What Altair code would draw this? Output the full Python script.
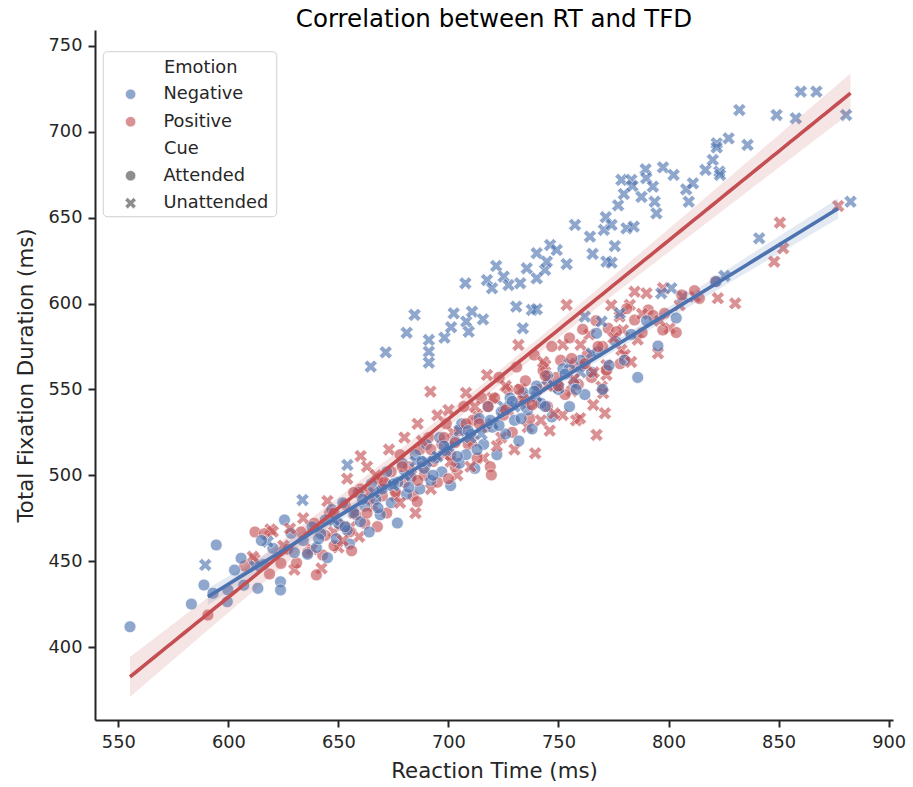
import numpy as np
import pandas as pd
import altair as alt

# ---------------- data ----------------
# Negative / Attended (blue circles)
na_x = [555.3, 583.2, 588.9, 593.0, 594.5, 599.5, 599.8, 602.8, 605.8, 607.0, 613.4, 623.7, 623.7, 625.5, 628.5,
        620.2, 616.0, 630.0, 634, 636, 638, 640, 642, 644, 645, 647, 649, 650, 652, 654, 655, 657, 659, 660, 662,
        664, 665, 667, 669, 670, 672, 674, 676.8, 677, 679, 681, 683, 685, 687, 689, 690, 692, 694, 696, 697, 699,
        701, 703, 705, 706, 708, 710, 712, 714, 716, 718, 720, 722, 724, 726, 728, 730, 732, 734, 736, 738, 740,
        742, 745, 747, 750, 752, 755, 757, 760, 762, 765, 767.3, 768, 770, 773, 776, 780, 783, 786, 790, 795.2,
        803.5, 821.6, 615.0,
        641, 653, 661, 668, 675, 682, 688, 693, 698, 704, 709, 713, 719, 723, 729, 733, 739, 744, 753, 758]
na_y = [411.8, 425.0, 436.1, 431.3, 459.4, 426.4, 433.2, 444.8, 451.7, 436.0, 434.2, 438.0, 433.2, 474.0, 466.2,
        457.5, 448.0, 455.0, 462, 454, 470, 458, 466, 474, 452, 480, 463, 472, 484, 468, 460, 478, 490, 473, 482,
        467, 495, 486, 477, 492, 502, 484, 472.2, 496, 507, 489, 499, 512, 492, 504, 518, 497, 510, 522, 502, 514,
        494, 520, 507, 530, 512, 524, 504, 533, 518, 540, 528, 512, 537, 524, 545, 532, 520, 548, 538, 527, 552,
        542, 558, 534, 550, 562, 540, 554, 567, 547, 560, 582.7, 572, 550, 564, 578, 567, 582, 557, 590, 575.3,
        591.6, 612.8, 462.0,
        463, 470, 486, 481, 495, 493, 508, 500, 517, 511, 526, 515, 532, 529, 543, 533, 549, 540, 559, 550]

# Positive / Attended (red circles)
pa_x = [590.7, 607.4, 612.1, 616.4, 618.7, 623.9, 627, 631, 633, 636, 639, 642.8, 644, 646, 648, 651, 653, 655,
        658, 660, 662, 664, 667.7, 668, 670, 672, 674, 676, 678, 680, 682, 684, 685.8, 687, 689, 691, 693, 695,
        697, 699, 701, 703, 705, 707, 709, 711, 713, 715, 717, 719, 719.5, 721, 723, 725, 727, 729, 731, 733, 735,
        737, 739, 741, 743, 745, 747, 749, 751, 753, 755, 757, 759, 761, 763, 765, 767, 770, 771.8, 772.6, 776.3,
        778, 781, 784.6, 788, 790.8, 793, 797.4, 798.2, 803.5, 806, 811.8, 814, 821.3, 640, 656, 700,
        648, 657, 663, 671, 679, 686, 692, 698, 703, 708, 714, 718, 726, 732, 738, 744, 750, 756, 762, 768]
pa_y = [418.6, 447.2, 467.0, 466.0, 442.5, 448.7, 457, 449, 467, 455, 472, 453.6, 465, 478, 459, 471, 483, 467,
        477, 492, 472, 486, 470.1, 498, 488, 478, 502, 490, 512, 496, 505, 488, 484.6, 515, 500, 522, 508, 496,
        518, 530, 512, 505, 526, 540, 518, 532, 510, 545, 528, 505, 500.2, 545, 557, 535, 550, 525, 563, 543, 555,
        533, 570, 550, 561, 540, 575, 557, 567, 547, 580, 563, 553, 585, 570, 557, 590, 575, 561.3, 585.6, 583.6,
        565, 597, 590.4, 583, 596.3, 593, 584.6, 594.3, 583.1, 605, 607.5, 603, 612.8, 442, 456, 498,
        478, 490, 478, 496, 505, 497, 515, 522, 519, 530, 530, 540, 538, 550, 541, 558, 552, 568, 565, 575]

# Negative / Unattended (blue crosses)
nu_x = [664.7, 671.5, 681.0, 684.6, 691.1, 691.1, 691.1, 698.2, 701.2, 702.4, 708.1, 709.2, 710.7, 715.7, 707.7,
        717.5, 719.8, 721.7, 725.1, 727.3, 732.6, 730.8, 733.8, 735.6, 740.1, 737.9, 740.1, 740.1, 743.9, 744.7,
        746.2, 749.2, 753.7, 757.5, 764.3, 765.5, 771.5, 770.6, 774.1, 775.6, 771.8, 774.1, 777.1, 778.6, 779.7,
        783.1, 783.6, 780.9, 784.2, 787.7, 789.6, 789.9, 792.9, 793.7, 794.5, 797.5, 802.3, 808.0, 809.2, 811.1,
        816.8, 820.1, 821.9, 823.1, 827.3, 835.9, 832.2, 821.9, 823.4, 849.1, 857.8, 860.1, 867.2, 880.7, 882.7,
        841.2, 825.4, 806.5, 801.3, 796.7, 762.0, 769.6, 777.9, 654.1, 633.7, 589.5, 617.9,
        700, 720, 740, 680, 648, 612, 690, 760, 730, 666,
        705, 715, 725, 735, 745, 750, 755, 695, 685, 710, 765, 675]
nu_y = [563.3, 571.6, 583.0, 593.4, 578.8, 572.0, 565.6, 580.1, 586.2, 594.3, 589.5, 583.6, 595.3, 590.8, 611.8,
        613.7, 608.9, 621.9, 615.7, 610.8, 611.8, 598.2, 585.6, 620.5, 614.7, 596.3, 596.7, 629.3, 619.6, 624.4,
        634.1, 631.2, 623.0, 645.8, 639.0, 628.9, 650.3, 642.9, 645.8, 633.5, 624.4, 623.8, 657.2, 672.0, 663.8,
        672.0, 668.5, 643.8, 644.8, 662.1, 678.2, 673.0, 668.1, 659.3, 652.5, 679.3, 674.9, 666.5, 659.3, 670.0,
        677.8, 683.6, 693.3, 676.8, 696.2, 692.4, 712.7, 690.9, 674.9, 709.8, 707.9, 723.4, 723.4, 709.8, 659.3,
        638.0, 616.1, 604.0, 608.9, 606.0, 592.4, 589.5, 594.3, 506.0, 485.6, 447.8, 461.3,
        517, 530, 546, 500, 474, 447, 508, 560, 540, 490,
        526, 524, 540, 541, 556, 551, 565, 511, 508, 522, 571, 494]

# Positive / Unattended (red crosses)
pu_x = [611.9, 611.1, 619.1, 620.2, 625, 630, 634, 638, 642.3, 645, 648, 650, 654, 655.6, 657, 659.4, 660.1, 663,
        666, 670, 673, 676, 680, 683, 686, 689, 691.8, 692, 695, 698, 702, 704, 708, 711, 713, 716, 717.5, 720,
        724, 727, 730, 731.8, 733, 736, 739.4, 740, 744, 746, 749, 751.9, 752, 753.7, 756, 758, 759.8, 762, 764,
        765.8, 767.3, 769.6, 770.3, 771.1, 771.8, 771.8, 774, 777.8, 778.6, 779.3, 780.1, 782.4, 784.6, 786, 790,
        795.2, 797.5, 800.5, 805, 812, 822.4, 830.3, 848.0, 850.6, 852.1, 877.1,
        628, 664, 700, 710, 726, 742, 760, 788, 745, 685,
        652, 667, 678, 688, 701, 712, 722, 734, 743, 748, 757, 766, 775, 783, 796]
pu_y = [451.1, 452.6, 468.5, 467.2, 459, 445, 475, 457, 445.8, 485, 467, 458, 498, 470.0, 478, 464.2, 511.2, 505,
        482, 495, 515, 488, 522, 500, 530, 505, 548.7, 492, 535, 512, 525, 500, 548, 520, 535, 510, 558.4, 545,
        522, 538, 515, 575.9, 550, 528, 512.8, 542, 564, 526, 552, 535.1, 576, 599.2, 549, 532, 533.2, 564, 582,
        541.0, 523.5, 551.6, 547.8, 536.1, 564.2, 558.4, 599, 592.4, 573.0, 584.6, 570.1, 599.2, 606.9, 579, 606,
        571.0, 609.0, 585.6, 599, 604, 603.1, 600.1, 624.4, 647.1, 632.2, 656.8,
        469, 490, 538, 505, 552, 532, 576, 594, 552, 478,
        462, 500, 484, 520, 508, 540, 517, 544, 566, 536, 556, 560, 580, 566, 590]

emotions = ["Negative", "Positive"]
cues = ["Attended", "Unattended"]
x_ticks = [550, 600, 650, 700, 750, 800, 850, 900]
y_ticks = [400, 450, 500, 550, 600, 650, 700, 750]

# ---------------- build tables ----------------
groups = [("Negative", "Attended", na_x, na_y), ("Positive", "Attended", pa_x, pa_y),
          ("Negative", "Unattended", nu_x, nu_y), ("Positive", "Unattended", pu_x, pu_y)]
rows = []
n_max = max(len(g[2]) for g in groups)
for i in range(n_max):
    for emo, cue, xs, ys in groups:
        if i < len(xs):
            rows.append({"RT": xs[i], "TFD": ys[i], "Emotion": emo, "Cue": cue})
df = pd.DataFrame(rows)


def fit_table(emo):
    sub = df[df.Emotion == emo]
    x = sub.RT.to_numpy(float)
    y = sub.TFD.to_numpy(float)
    n = len(x)
    b1, b0 = np.polyfit(x, y, 1)
    xs = np.linspace(x.min(), x.max(), 120)
    yh = b0 + b1 * xs
    res = y - (b0 + b1 * x)
    s = np.sqrt((res ** 2).sum() / (n - 2))
    se = s * np.sqrt(1.0 / n + (xs - x.mean()) ** 2 / ((x - x.mean()) ** 2).sum())
    return pd.DataFrame({"RT": xs, "fit": yh, "lo": yh - 1.96 * se, "hi": yh + 1.96 * se})


fit_neg = fit_table("Negative")
fit_pos = fit_table("Positive")

# ---------------- styling ----------------
BLUE = "#4c72b0"
RED = "#c44e52"
XPATH = ("M-1.1,-0.55L-0.55,-1.1L0,-0.55L0.55,-1.1L1.1,-0.55L0.55,0L1.1,0.55L0.55,1.1L0,0.55"
         "L-0.55,1.1L-1.1,0.55L-0.55,0Z")
FONT = "DejaVu Sans"
TXT = "#262626"

X_DOM = [539.4, 902.0]
Y_DOM = [357.5, 759.3]
xs_ = alt.Scale(domain=X_DOM, nice=False, zero=False)
ys_ = alt.Scale(domain=Y_DOM, nice=False, zero=False)

axis_common = dict(grid=False, domainColor=TXT, domainWidth=2, tickColor=TXT, tickWidth=2, tickSize=7,
                   labelFont=FONT, labelFontSize=17.8, labelColor=TXT, labelPadding=6,
                   titleFont=FONT, titleFontSize=21.3, titleFontWeight="normal", titleColor=TXT)

x_axis = alt.Axis(values=x_ticks, title="Reaction Time (ms)", titlePadding=10, **axis_common)
y_axis = alt.Axis(values=y_ticks, title="Total Fixation Duration (ms)", titlePadding=12, **axis_common)

leg_common = dict(orient="none", titleFont=FONT, titleFontSize=17.8, titleFontWeight="normal", titleColor=TXT,
                  labelFont=FONT, labelFontSize=17.8, labelColor=TXT, symbolSize=110, rowPadding=8.5,
                  titlePadding=9, labelOffset=24, symbolOffset=-42.3, padding=0,
                  symbolStrokeColor="white", symbolStrokeWidth=0.75)

color_legend = alt.Legend(title="Emotion", legendX=69, legendY=28.5, symbolType="circle", **leg_common)
shape_legend = alt.Legend(title="Cue", legendX=69, legendY=110, symbolFillColor="#7a7a7a",
                          symbolOpacity=0.85, **leg_common)

frame = alt.Chart(alt.InlineData(values=[{"k": 0}])).mark_rect(
    fill="white", stroke="#d0d0d0", strokeWidth=1, cornerRadius=4
).encode(x=alt.value(8.3), x2=alt.value(181.7), y=alt.value(21.7), y2=alt.value(186.7))

points = alt.Chart(df).mark_point(filled=True, opacity=0.62, size=145, stroke="white", strokeWidth=0.75).encode(
    x=alt.X("RT:Q", scale=xs_, axis=x_axis),
    y=alt.Y("TFD:Q", scale=ys_, axis=y_axis),
    color=alt.Color("Emotion:N", scale=alt.Scale(domain=emotions, range=[BLUE, RED]), legend=color_legend),
    shape=alt.Shape("Cue:N", scale=alt.Scale(domain=cues, range=["circle", XPATH]), legend=shape_legend),
)


def band(tbl, col):
    return alt.Chart(tbl).mark_area(color=col, opacity=0.15).encode(
        x=alt.X("RT:Q", scale=xs_), y=alt.Y("lo:Q", scale=ys_), y2="hi:Q")


def line(tbl, col):
    return alt.Chart(tbl).mark_line(color=col, strokeWidth=3.6).encode(
        x=alt.X("RT:Q", scale=xs_), y=alt.Y("fit:Q", scale=ys_))


chart = alt.layer(
    frame, points,
    band(fit_neg, RED), band(fit_pos, BLUE),
    line(fit_neg, RED), line(fit_pos, BLUE),
).properties(
    width=798, height=690,
    background="white",
    title=alt.TitleParams("Correlation between RT and TFD", font=FONT, fontSize=24.5, fontWeight="normal",
                          color="black", offset=-2, anchor="middle"),
    autosize=alt.AutoSizeParams(type="none"),
    padding={"left": 95, "top": 30, "right": 20, "bottom": 67},
).configure_view(stroke=None)

chart.save("out.html", embed_options={"renderer": "svg", "actions": False})
